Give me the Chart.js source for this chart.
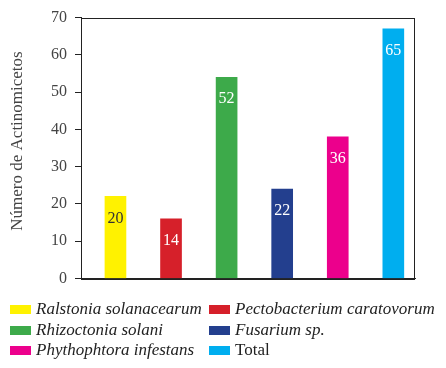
<!DOCTYPE html>
<html>
<head>
<meta charset="utf-8">
<script src="https://cdn.jsdelivr.net/npm/chart.js@4/dist/chart.umd.min.js"></script>
<style>
  html, body { margin: 0; padding: 0; background: #fff; }
  #wrap { position: relative; width: 446px; height: 368px; overflow: hidden; }
  #chartBox { position: absolute; left: 0; top: 0; width: 446px; height: 296px; }
  #legend { position: absolute; left: 0; top: 0; width: 446px; height: 368px; pointer-events: none;
            font-family: "Liberation Serif", "DejaVu Serif", serif; font-size: 17px; color: #222; }
  .item { position: absolute; display: flex; align-items: center; white-space: nowrap; height: 20px; }
  .sw { width: 21px; height: 9px; margin-right: 5px; }
  .it { font-style: italic; }
</style>
</head>
<body>
<div id="wrap">
  <div id="chartBox"><canvas id="c"></canvas></div>
  <div id="legend"></div>
</div>
<script>
// ---- data ----
const categories = ["Ralstonia solanacearum", "Pectobacterium caratovorum", "Rhizoctonia solani", "Fusarium sp.", "Phythophtora infestans", "Total"];
const barValues = [22, 16, 54, 24, 38, 67];          // bar heights as drawn
const barLabels = ["20", "14", "52", "22", "36", "65"]; // numbers printed on the bars
const colors = ["#FFF200", "#D6202A", "#3DAA4A", "#233F8E", "#EC008C", "#00AEEF"];
const labelColors = ["#333333", "#ffffff", "#ffffff", "#ffffff", "#ffffff", "#ffffff"];
const italicNames = [true, true, true, true, true, false];
const yTicks = [0, 10, 20, 30, 40, 50, 60, 70];
const yTitle = "Número de Actinomicetos";

const FONT = '"Liberation Serif", "DejaVu Serif", serif';

const points = barValues.map((v, i) => ({ x: i + 1, y: v }));

const frame = {
  id: 'frame',
  afterDraw(chart) {
    const a = chart.chartArea, ctx = chart.ctx;
    ctx.save();
    ctx.strokeStyle = '#222';
    ctx.lineWidth = 1;
    ctx.strokeRect(Math.round(a.left) + 0.5, Math.round(a.top) + 0.5, Math.round(a.right - a.left) - 1, Math.round(a.bottom - a.top));
    // y axis title
    ctx.fillStyle = '#444';
    ctx.font = '17px ' + FONT;
    ctx.textAlign = 'center';
    ctx.textBaseline = 'middle';
    ctx.translate(18, 141);
    ctx.rotate(-Math.PI / 2);
    ctx.fillText(yTitle, 0, 0);
    ctx.restore();
  }
};

const barText = {
  id: 'barText',
  afterDatasetsDraw(chart) {
    const ctx = chart.ctx;
    const meta = chart.getDatasetMeta(0);
    ctx.save();
    ctx.font = '16px ' + FONT;
    ctx.textAlign = 'center';
    ctx.textBaseline = 'middle';
    meta.data.forEach((el, i) => {
      ctx.fillStyle = labelColors[i];
      ctx.fillText(barLabels[i], el.x, el.y + 22);
    });
    ctx.restore();
  }
};

new Chart(document.getElementById('c'), {
  type: 'bar',
  data: {
    datasets: [{
      data: points,
      backgroundColor: colors,
      borderWidth: 0,
      barThickness: 21
    }]
  },
  options: {
    responsive: true,
    maintainAspectRatio: false,
    animation: false,
    layout: { padding: { left: 0, right: 31, top: 16, bottom: 4 } },
    plugins: { legend: { display: false }, tooltip: { enabled: false } },
    scales: {
      x: {
        type: 'linear',
        offset: false,
        min: 0.38,
        max: 6.39,
        grid: { display: false, drawTicks: false },
        border: { display: true, color: '#222', width: 1 },
        ticks: { display: false },
        afterFit(s) { s.height = 0; }
      },
      y: {
        min: 0,
        max: 70,
        afterBuildTicks(s) { s.ticks = yTicks.map(v => ({ value: v })); },
        grid: { display: true, drawOnChartArea: false, drawTicks: true, tickLength: 6, color: '#222' },
        border: { display: true, color: '#222', width: 1 },
        ticks: { padding: 8, color: '#444', font: { family: FONT, size: 16 } },
        title: { display: false },
        afterFit(s) { s.width = 81; }
      }
    }
  },
  plugins: [frame, barText]
});

// ---- HTML legend ----
const legend = document.getElementById('legend');
const colX = [10, 209];
const rowY = [299, 320, 340];
categories.forEach((name, i) => {
  const d = document.createElement('div');
  d.className = 'item';
  d.style.left = colX[i % 2] + 'px';
  d.style.top = rowY[Math.floor(i / 2)] + 'px';
  const sw = document.createElement('span');
  sw.className = 'sw';
  sw.style.background = colors[i];
  const t = document.createElement('span');
  t.textContent = name;
  if (italicNames[i]) t.className = 'it';
  d.appendChild(sw); d.appendChild(t);
  legend.appendChild(d);
});
</script>
</body>
</html>
